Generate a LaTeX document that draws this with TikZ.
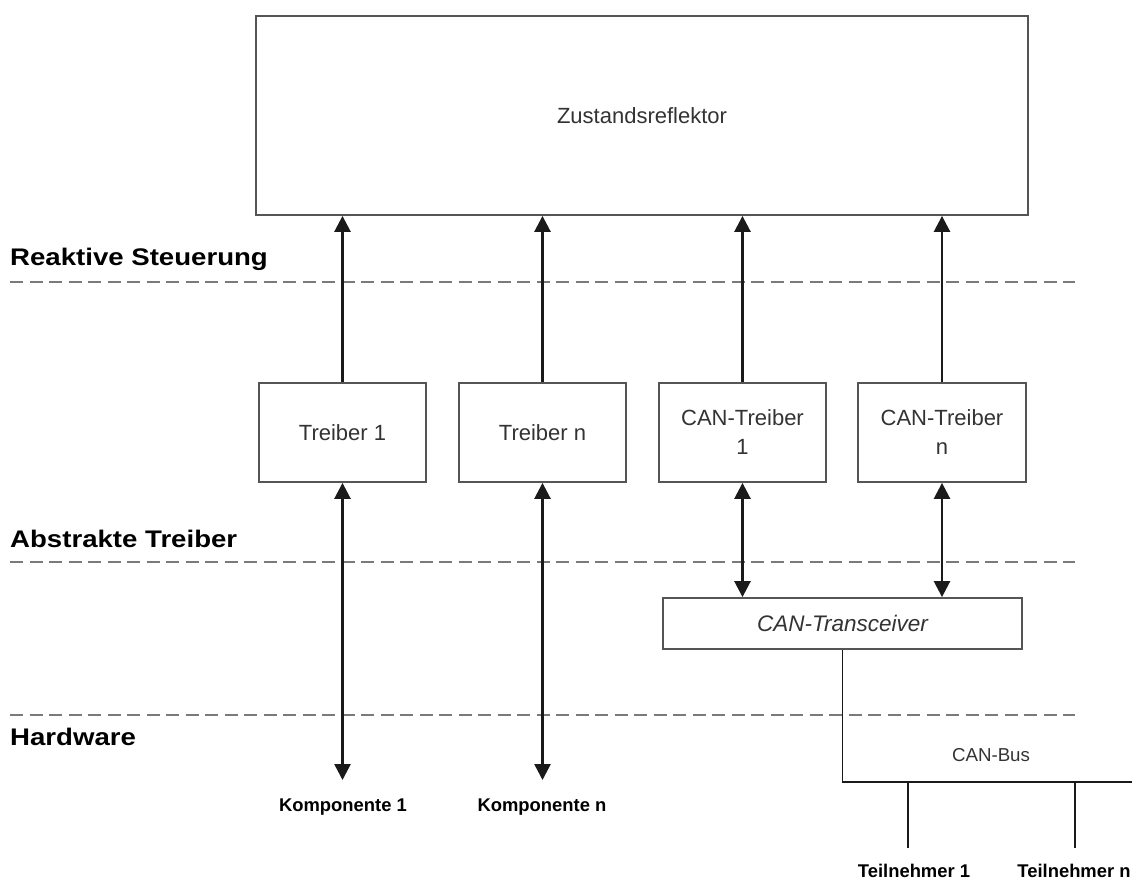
\documentclass[tikz,border=0pt]{standalone}
\usepackage{fontspec}
\setmainfont{Liberation Sans}
\newfontfamily\layerfont[FakeStretch=1.15]{Liberation Sans Bold}
\usetikzlibrary{arrows.meta}
\definecolor{boxline}{HTML}{555555}
\definecolor{boxtext}{HTML}{333333}
\definecolor{layerline}{HTML}{7A7A7A}
\definecolor{arrowline}{HTML}{1A1A1A}
\tikzset{
  box/.style={draw=boxline, line width=1.8pt, fill=white, inner sep=0pt,
    align=center, text=boxtext, font=\fontsize{22}{29}\selectfont},
  layer/.style={draw=layerline, line width=2.2pt, dash pattern=on 13pt off 6.5pt},
  layername/.style={anchor=base west, inner sep=0pt, text=black,
    font=\fontsize{24}{29}\layerfont},
  flow/.style={draw=arrowline, line width=2.6pt,
    -{Triangle[length=16pt,width=16pt]}},
  dflow/.style={draw=arrowline, line width=2.6pt,
    {Triangle[length=16pt,width=16pt]}-{Triangle[length=16pt,width=16pt]}},
  busline/.style={draw=arrowline, line width=1.5pt},
  devname/.style={anchor=base, inner sep=0pt, text depth=0pt, text=black,
    font=\fontsize{18.4}{22}\selectfont\bfseries},
}
\begin{document}
\begin{tikzpicture}[x=1pt,y=-1pt]
  \useasboundingbox[fill=white] (0,0) rectangle (1132,880);

  % layer separators and their names
  \draw[layer] (10,282) -- (1075,282);
  \draw[layer] (10,562) -- (1075,562);
  \draw[layer] (10,715) -- (1075,715);
  \node[layername] (lrs) at (10,265) {Reaktive Steuerung};
  \node[layername] (lat) at (10,547) {Abstrakte Treiber};
  \node[layername] (lhw) at (10,745) {Hardware};

  % state reflector
  \node[box, minimum width=772pt, minimum height=199pt] (zr) at (642,115.5) {Zustandsreflektor};

  % drivers
  \node[box, minimum width=167pt, minimum height=99pt] (t1) at (342.5,432.5) {Treiber 1};
  \node[box, minimum width=167pt, minimum height=99pt] (tn) at (542.5,432.5) {Treiber n};
  \node[box, minimum width=167pt, minimum height=99pt] (c1) at (742.5,432.5) {CAN-Treiber\\1};
  \node[box, minimum width=168pt, minimum height=99pt] (cn) at (942,432.5) {CAN-Treiber\\n};

  % transceiver
  \node[box, minimum width=359pt, minimum height=51pt, font=\fontsize{22.5}{27}\selectfont\itshape] (tr) at (842.5,623.5) {CAN-Transceiver};

  % drivers report to the state reflector
  \foreach \d in {t1,tn,c1,cn}
    \draw[flow] (\d.north) -- (\d.north |- zr.south);

  % CAN drivers to transceiver
  \draw[dflow] (c1.south) -- (c1.south |- tr.north);
  \draw[dflow] (cn.south) -- (cn.south |- tr.north);

  % hardware components
  \node[devname] (k1) at (343,811) {Komponente 1};
  \node[devname] (kn) at (542,811) {Komponente n};
  \coordinate (k1top) at (343,780);
  \coordinate (kntop) at (542,780);
  \draw[dflow] (t1.south) -- (t1.south |- k1top);
  \draw[dflow] (tn.south) -- (tn.south |- kntop);

  % CAN bus with its participants
  \coordinate (busR) at (1132,782);
  \draw[busline] (tr.south) |- (busR);
  \node[inner sep=0pt, text=boxtext, font=\fontsize{18.7}{22}\selectfont] (bus) at (991,755) {CAN-Bus};
  \node[devname] (p1) at (914,877) {Teilnehmer 1};
  \node[devname] (pn) at (1074,877) {Teilnehmer n};
  \coordinate (p1top) at (908,848);
  \coordinate (pntop) at (1075,848);
  \draw[busline] (p1top |- busR) -- (p1top);
  \draw[busline] (pntop |- busR) -- (pntop);
\end{tikzpicture}
\end{document}
